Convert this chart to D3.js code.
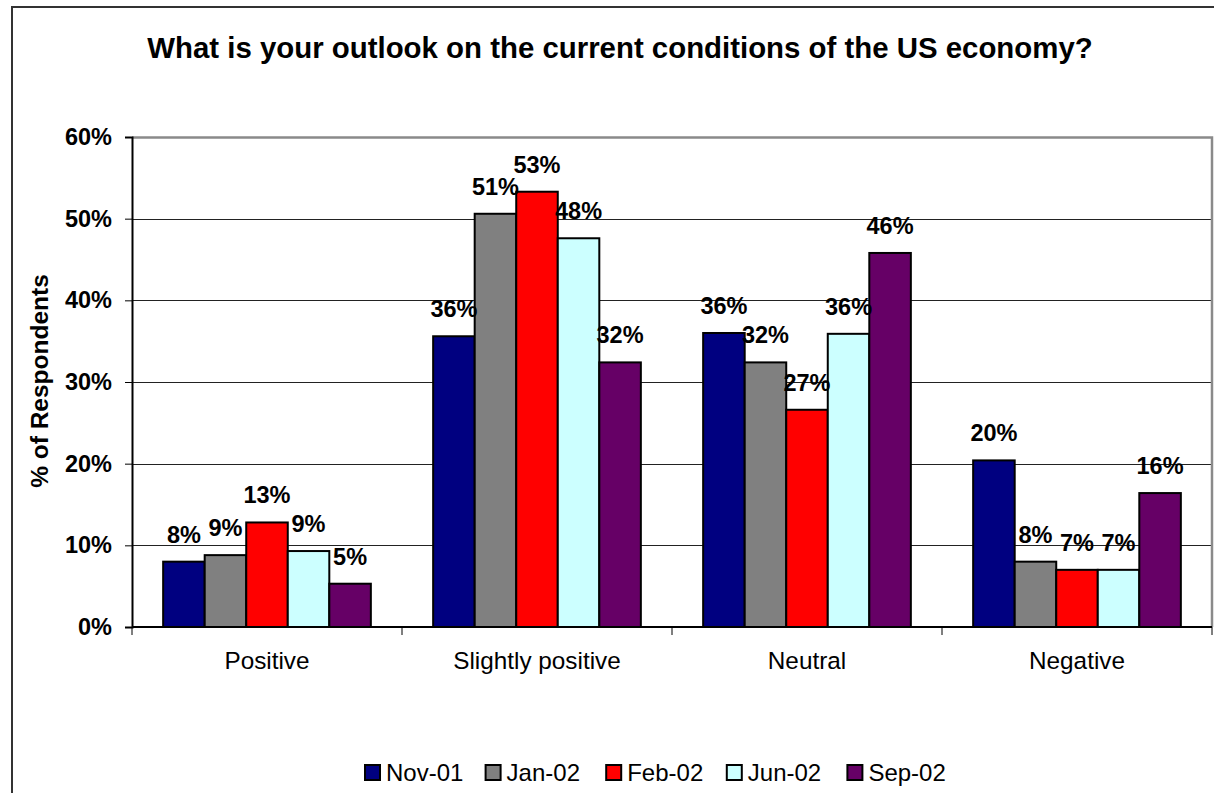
<!DOCTYPE html>
<html>
<head>
<meta charset="utf-8">
<script src="https://cdn.jsdelivr.net/npm/d3@7/dist/d3.min.js"></script>
<style>
  html, body { margin: 0; padding: 0; background: #fff; }
  svg { display: block; font-family: "Liberation Sans", Arial, Helvetica, sans-serif; }
</style>
</head>
<body>
<svg id="chart" width="1214" height="793"></svg>
<script>
// Survey answers, grouped by answer and coloured by survey date
const categories = ["Positive", "Slightly positive", "Neutral", "Negative"];
const seriesNames = ["Nov-01", "Jan-02", "Feb-02", "Jun-02", "Sep-02"];
const seriesColors = ["#000080", "#808080", "#ff0000", "#ccffff", "#660066"];

// % of respondents, one array per survey date (order follows categories)
const nov01 = [8.0, 35.6, 36.0, 20.4];
const jan02 = [8.8, 50.6, 32.4, 8.0];
const feb02 = [12.8, 53.3, 26.6, 7.0];
const jun02 = [9.3, 47.6, 35.9, 7.0];
const sep02 = [5.3, 32.4, 45.8, 16.4];

const yTicks = [0, 10, 20, 30, 40, 50, 60];

const titleText = "What is your outlook on the current conditions of the US economy?";
const yAxisTitle = "% of Respondents";

const seriesValues = [nov01, jan02, feb02, jun02, sep02];

const svg = d3.select("#chart");

// Plot area bounds
const plot = { left: 132, right: 1212, top: 137, bottom: 627 };

// Outer chart frame
svg.append("rect")
  .attr("x", 12).attr("y", 7)
  .attr("width", 1240).attr("height", 820)
  .attr("fill", "#fff")
  .attr("stroke", "#333").attr("stroke-width", 2);

// Title
svg.append("text")
  .attr("x", 620).attr("y", 58)
  .attr("text-anchor", "middle")
  .attr("font-weight", "bold")
  .attr("font-size", 29.4)
  .text(titleText);

const y = d3.scaleLinear().domain([0, 60]).range([plot.bottom, plot.top]);
const x0 = d3.scaleBand().domain(categories).range([plot.left, plot.right]);
const x1 = d3.scaleBand().domain(seriesNames).range([0, x0.bandwidth()])
  .paddingInner(0).paddingOuter(0.75);
const color = d3.scaleOrdinal().domain(seriesNames).range(seriesColors);

// Gridlines
svg.append("g")
  .selectAll("line")
  .data(yTicks.filter(t => t > 0 && t < 60))
  .join("line")
  .attr("x1", plot.left).attr("x2", plot.right)
  .attr("y1", d => Math.round(y(d)) + 0.5).attr("y2", d => Math.round(y(d)) + 0.5)
  .attr("stroke", "#222").attr("stroke-width", 1.2);

// Plot area border (top and right)
svg.append("path")
  .attr("d", `M${plot.left},${plot.top + 0.5}H${plot.right}V${plot.bottom}`)
  .attr("fill", "none")
  .attr("stroke", "#8a8a8a").attr("stroke-width", 2.5);

// Bars
const flat = [];
categories.forEach((c, ci) => {
  seriesNames.forEach((s, si) => {
    flat.push({ category: c, series: s, value: seriesValues[si][ci] });
  });
});

svg.append("g")
  .selectAll("rect")
  .data(flat)
  .join("rect")
  .attr("x", d => x0(d.category) + x1(d.series))
  .attr("y", d => y(d.value))
  .attr("width", x1.bandwidth())
  .attr("height", d => y(0) - y(d.value))
  .attr("fill", d => color(d.series))
  .attr("stroke", "#000")
  .attr("stroke-width", 2);

// Y axis
const yAxis = d3.axisLeft(y)
  .tickValues(yTicks)
  .tickFormat(d => d + "%")
  .tickSize(7)
  .tickPadding(13);

const gy = svg.append("g")
  .attr("transform", `translate(${plot.left},0)`)
  .call(yAxis);
gy.select(".domain").attr("stroke", "#000").attr("stroke-width", 2);
gy.selectAll(".tick line").attr("stroke", "#000");
gy.selectAll(".tick text")
  .attr("font-size", 23.5)
  .attr("font-weight", "bold")
  .attr("fill", "#000");
gy.attr("font-family", null).attr("font-size", null);

// X axis: line with ticks at category boundaries
svg.append("line")
  .attr("x1", plot.left).attr("x2", plot.right)
  .attr("y1", plot.bottom).attr("y2", plot.bottom)
  .attr("stroke", "#000").attr("stroke-width", 2);

const boundaries = categories.map(c => x0(c)).concat([plot.right]);
svg.append("g")
  .selectAll("line")
  .data(boundaries)
  .join("line")
  .attr("x1", d => d).attr("x2", d => d)
  .attr("y1", plot.bottom).attr("y2", plot.bottom + 8)
  .attr("stroke", "#000").attr("stroke-width", 1);

svg.append("g")
  .selectAll("text")
  .data(categories)
  .join("text")
  .attr("x", d => x0(d) + x0.bandwidth() / 2)
  .attr("y", 669)
  .attr("text-anchor", "middle")
  .attr("font-size", 24.3)
  .text(d => d);

// Y axis title
svg.append("text")
  .attr("transform", `translate(48,${(plot.top + plot.bottom) / 2 - 1}) rotate(-90)`)
  .attr("text-anchor", "middle")
  .attr("font-weight", "bold")
  .attr("font-size", 24.5)
  .text(yAxisTitle);

// Value labels above the bars
svg.append("g")
  .selectAll("text")
  .data(flat)
  .join("text")
  .attr("x", d => x0(d.category) + x1(d.series) + x1.bandwidth() / 2)
  .attr("y", d => y(d.value) - 19)
  .attr("text-anchor", "middle")
  .attr("font-weight", "bold")
  .attr("font-size", 23.5)
  .text(d => Math.round(d.value) + "%");

// Legend
const legendX = d3.scaleBand().domain(seriesNames).range([364, 364 + 5 * 120.6]);
const legend = svg.append("g")
  .selectAll("g")
  .data(seriesNames)
  .join("g")
  .attr("transform", d => `translate(${legendX(d)},764)`);

legend.append("rect")
  .attr("x", 1).attr("y", 1)
  .attr("width", 15).attr("height", 15)
  .attr("fill", d => color(d))
  .attr("stroke", "#000").attr("stroke-width", 2);

legend.append("text")
  .attr("x", 22).attr("y", 16.5)
  .attr("font-size", 24)
  .text(d => d);
</script>
</body>
</html>
